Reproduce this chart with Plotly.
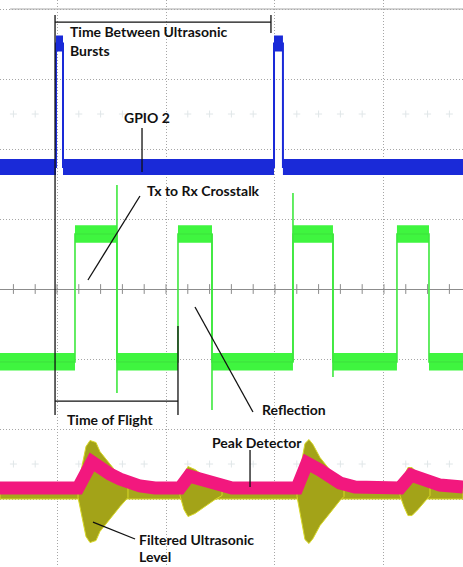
import plotly.graph_objects as go

# Scope screen: time axis in divisions, amplitude axis in divisions
X_RANGE = [-0.523, 3.725]
Y_RANGE = [-3.971, 4.129]

# GPIO 2 (blue): edge times, low/high levels, trace half-thickness
gpio_edges = [-0.009, 0.055, 1.991, 2.073]
gpio_low, gpio_high = 1.743, 3.507
gpio_half = 0.115

# Transducer drive / receive (green)
tx_edges = [0.165, 0.550, 1.110, 1.422, 2.165, 2.532, 3.119, 3.413]
tx_low, tx_high = -1.040, 0.786
tx_half = 0.125
spike_t = [0.550, 1.422, 2.165, 2.532]
spike_top = [1.486, 0.786, 1.371, 0.786]
spike_bottom = [-1.486, -1.729, -1.040, -1.257]

# Filtered ultrasonic level (olive): burst envelopes around its baseline
filt_center = -2.893
filt_half = 0.107
burst_t = [
    [0.193, 0.229, 0.266, 0.303, 0.358, 0.394, 0.486, 0.578, 0.651],
    [1.128, 1.165, 1.202, 1.266, 1.358, 1.450, 1.514],
    [2.202, 2.239, 2.275, 2.312, 2.349, 2.413, 2.505, 2.596, 2.633],
    [3.147, 3.183, 3.220, 3.257, 3.312, 3.376, 3.422],
]
burst_amp = [
    [0.086, 0.357, 0.643, 0.729, 0.700, 0.571, 0.386, 0.214, 0.086],
    [0.057, 0.257, 0.357, 0.314, 0.214, 0.114, 0.057],
    [0.071, 0.357, 0.686, 0.743, 0.671, 0.486, 0.300, 0.129, 0.071],
    [0.057, 0.214, 0.343, 0.343, 0.257, 0.143, 0.057],
]

# Peak detector output (pink)
peak_t = [-0.523, 0.193, 0.321, 0.394, 0.486, 0.578, 0.670, 0.761, 0.899,
          1.128, 1.211, 1.312, 1.404, 1.495, 1.606,
          2.202, 2.294, 2.413, 2.505, 2.596, 2.734, 2.872,
          3.147, 3.248, 3.376, 3.514, 3.725]
peak_v = [-2.843, -2.843, -2.471, -2.557, -2.643, -2.714, -2.771, -2.814, -2.843,
          -2.843, -2.671, -2.714, -2.757, -2.800, -2.843,
          -2.843, -2.486, -2.586, -2.686, -2.771, -2.829, -2.843,
          -2.843, -2.657, -2.729, -2.800, -2.829]

# Labels: text, x, y
labels = [
    ("Time Between Ultrasonic", 0.101, 3.686),
    ("Bursts", 0.101, 3.414),
    ("GPIO 2", 0.596, 2.457),
    ("Tx to Rx Crosstalk", 0.807, 1.414),
    ("Time of Flight", 0.073, -1.857),
    ("Reflection", 1.862, -1.714),
    ("Peak Detector", 1.404, -2.186),
    ("Filtered Ultrasonic", 0.734, -3.571),
    ("Level", 0.734, -3.814),
]

# Leader lines and timing brackets: (t0, v0, t1, v1)
leaders = [
    (0.780, 2.300, 0.780, 1.671),
    (0.761, 1.329, 0.284, 0.129),
    (1.266, -0.257, 1.798, -1.757),
    (1.771, -2.300, 1.771, -2.829),
    (0.330, -3.329, 0.716, -3.571),
    (-0.018, 3.814, 1.963, 3.814),
    (-0.018, 3.914, -0.018, -1.800),
    (1.963, 3.914, 1.963, 3.657),
    (-0.018, -1.600, 1.110, -1.600),
    (1.110, -0.529, 1.110, -1.800),
]

FONT = "Lato"


def step_path(edges, lo, hi):
    xs, ys, level = [X_RANGE[0]], [lo], lo
    for e in edges:
        nxt = hi if level == lo else lo
        xs += [e, e]
        ys += [level, nxt]
        level = nxt
    xs.append(X_RANGE[1])
    ys.append(level)
    return xs, ys


def level_bands(edges, lo, hi, half):
    bounds = [X_RANGE[0]] + list(edges) + [X_RANGE[1]]
    xs, ys, level = [], [], lo
    for a, b in zip(bounds[:-1], bounds[1:]):
        xs += [a, b, b, a, a, None]
        ys += [level - half, level - half, level + half, level + half, level - half, None]
        level = hi if level == lo else lo
    return xs, ys


fig = go.Figure()

# faint tick rows of the upper and lower channel markers
minor = [round(k * 0.2, 3) for k in range(-2, 19) if k % 5 != 0]
for row in (2.5, -2.5):
    fig.add_trace(go.Scatter(x=minor, y=[row] * len(minor), mode="markers",
                             marker=dict(symbol="cross-thin", size=5,
                                         line=dict(color="#e0e6e8", width=1)),
                             hoverinfo="skip"))

# centre axis ticks
fig.add_trace(go.Scatter(x=[round(k * 0.2, 3) for k in range(-2, 19)], y=[0] * 21,
                         mode="markers",
                         marker=dict(symbol="line-ns", size=7,
                                     line=dict(color="#8c8c8c", width=1)),
                         hoverinfo="skip"))
# top border
fig.add_trace(go.Scatter(x=[-0.43, X_RANGE[1]], y=[4, 4], mode="lines",
                         line=dict(color="#a8a8a8", width=1), hoverinfo="skip"))

# GPIO 2
bx, by = level_bands(gpio_edges, gpio_low, gpio_high, gpio_half)
fig.add_trace(go.Scatter(x=bx, y=by, mode="lines", fill="toself", fillcolor="#1a2ad8",
                         line=dict(width=0, color="#1a2ad8"), hoverinfo="skip"))
sx, sy = step_path(gpio_edges, gpio_low, gpio_high)
fig.add_trace(go.Scatter(x=sx, y=sy, mode="lines",
                         line=dict(color="#1a2ad8", width=2), hoverinfo="skip"))

# Tx / Rx
gx, gy = level_bands(tx_edges, tx_low, tx_high, tx_half)
fig.add_trace(go.Scatter(x=gx, y=gy, mode="lines", fill="toself", fillcolor="#3ff53f",
                         line=dict(width=0, color="#3ff53f"), hoverinfo="skip"))
sx, sy = step_path(tx_edges, tx_low, tx_high)
fig.add_trace(go.Scatter(x=sx, y=sy, mode="lines",
                         line=dict(color="#3ee83e", width=1.6), hoverinfo="skip"))
kx, ky = [], []
for t, top, bot in zip(spike_t, spike_top, spike_bottom):
    kx += [t, t, None]
    ky += [top, bot, None]
fig.add_trace(go.Scatter(x=kx, y=ky, mode="lines",
                         line=dict(color="#3ee83e", width=1.6), hoverinfo="skip"))

# Filtered ultrasonic level: baseline band and bursts
fig.add_trace(go.Scatter(x=[X_RANGE[0], X_RANGE[1], X_RANGE[1], X_RANGE[0], X_RANGE[0]],
                         y=[filt_center - filt_half] * 2 + [filt_center + filt_half] * 2
                         + [filt_center - filt_half],
                         mode="lines", fill="toself", fillcolor="#a7a71c",
                         line=dict(width=1, color="#d9d92a"), hoverinfo="skip"))
for ts, amps in zip(burst_t, burst_amp):
    up = [filt_center + a for a in amps]
    dn = [filt_center - a for a in amps]
    fig.add_trace(go.Scatter(x=ts + ts[::-1] + [ts[0]], y=up + dn[::-1] + [up[0]],
                             mode="lines", fill="toself", fillcolor="#a3a318",
                             line=dict(width=1, color="#d8d828"), hoverinfo="skip"))

# Peak detector
fig.add_trace(go.Scatter(x=peak_t, y=peak_v, mode="lines",
                         line=dict(color="#f2187e", width=13), hoverinfo="skip"))

# leader lines and brackets
lx, ly = [], []
for t0, v0, t1, v1 in leaders:
    lx += [t0, t1, None]
    ly += [v0, v1, None]
fig.add_trace(go.Scatter(x=lx, y=ly, mode="lines",
                         line=dict(color="#111111", width=1.3), hoverinfo="skip"))

for text, x, y in labels:
    fig.add_annotation(x=x, y=y, text=f"<b>{text}</b>", showarrow=False,
                       xanchor="left", yanchor="middle",
                       font=dict(family=FONT, size=14, color="#111111"),
                       bgcolor="rgba(255,255,255,0)")

fig.update_layout(
    width=463, height=567,
    margin=dict(l=0, r=0, t=0, b=0),
    paper_bgcolor="white", plot_bgcolor="white",
    showlegend=False,
    xaxis=dict(range=X_RANGE, tick0=0, dtick=1, showgrid=True, gridcolor="#a6a6a6",
               griddash="1px,2px", gridwidth=1, zeroline=False,
               showticklabels=False, ticks="", fixedrange=True),
    yaxis=dict(range=Y_RANGE, tick0=0, dtick=1, showgrid=True, gridcolor="#a6a6a6",
               griddash="1px,2px", gridwidth=1, zeroline=True, zerolinecolor="#8c8c8c",
               zerolinewidth=1, showticklabels=False, ticks="", fixedrange=True),
)

fig.write_html("out.html")
